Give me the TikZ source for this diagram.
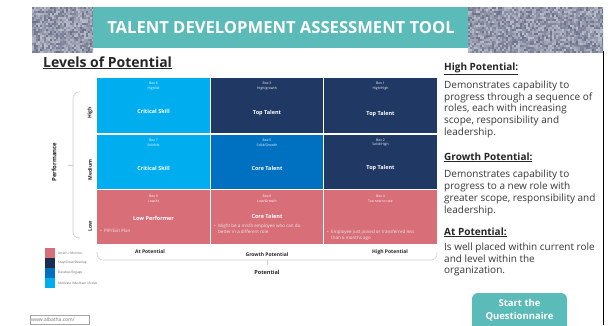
\documentclass[tikz,border=0pt]{standalone}
\usepackage{fontspec}
\setmainfont{Open Sans}
\definecolor{lblue}{RGB}{0,174,239}
\definecolor{navyc}{RGB}{31,56,100}
\definecolor{mblue}{RGB}{0,112,192}
\definecolor{rosec}{RGB}{216,110,120}
\definecolor{tealbar}{RGB}{91,187,184}
\definecolor{texA}{RGB}{80,86,115}
\definecolor{texB}{RGB}{214,217,226}
\definecolor{brk}{RGB}{205,205,205}
\definecolor{bodyc}{RGB}{55,55,55}
\begin{document}
\begin{tikzpicture}[x=1pt,y=-1pt,
  cellsmall/.style={font=\fontsize{3.4}{4.6}\selectfont, text=white, align=center, inner sep=0},
  celltitle/.style={font=\bfseries\fontsize{5.5}{6.5}\selectfont, text=white, inner sep=0},
  bulletbox/.style={font=\fontsize{4.5}{6.3}\selectfont, text=white!92!black, align=left, anchor=north west, inner sep=0},
  collbl/.style={font=\bfseries\fontsize{5}{6}\selectfont, inner sep=0, text=black!85},
  rowlbl/.style={font=\bfseries\fontsize{5}{6}\selectfont, rotate=90, inner sep=0, text=black!85},
  legtxt/.style={font=\fontsize{3.2}{4}\selectfont, anchor=west, inner sep=0, text=black!60},
  heading/.style={font=\bfseries\fontsize{10}{12}\selectfont, anchor=base west, inner sep=0, text=black!85},
  bodytxt/.style={font=\fontsize{10}{11.8}\selectfont, align=left, anchor=north west, inner sep=0, text=bodyc},
  bracketline/.style={draw=brk, line width=0.6pt, rounded corners=6pt}
]
\useasboundingbox (0,0) rectangle (615,325);
\fill[white] (0,0) rectangle (615,325);

% textured header strips
\pgfmathsetseed{7}
\begin{scope}
\clip (32,7) rectangle (93,52);
\fill[texA!50!texB] (32,7) rectangle (93,52);
\foreach \i in {0,...,30}{\foreach \j in {0,...,22}{
  \pgfmathsetmacro\s{int(20+60*rnd)}
  \fill[texA!\s!texB] (32+2*\i,7+2*\j) rectangle ++(2,2);}}
\end{scope}
\begin{scope}
\clip (468,7) rectangle (603,52);
\foreach \i in {0,...,67}{\foreach \j in {0,...,22}{
  \pgfmathsetmacro\s{int(20+60*rnd)}
  \fill[texA!\s!texB] (468+2*\i,7+2*\j) rectangle ++(2,2);}}
\end{scope}

% title bar
\fill[tealbar] (93,7) rectangle (468,48);
\node[font=\bfseries\fontsize{16.6}{18}\selectfont, text=white, inner sep=0] (title) at (281,28) {TALENT DEVELOPMENT ASSESSMENT TOOL};

% panel right border
\draw[black, line width=0.8pt] (603,51) -- (603,325);

% left heading
\node[font=\bfseries\fontsize{14}{16}\selectfont, anchor=base west, inner sep=0, text=black!85] (levels) at (43,67) {\underline{Levels of Potential}};

% grid cells
\fill[lblue] (97,78) rectangle (210,133);
\fill[navyc] (211,78) rectangle (323,133);
\fill[navyc] (324,78) rectangle (437,133);
\fill[lblue] (97,135) rectangle (210,189);
\fill[mblue] (211,135) rectangle (323,189);
\fill[navyc] (324,135) rectangle (437,189);
\fill[rosec] (97,190) rectangle (210,244);
\fill[rosec] (211,190) rectangle (323,244);
\fill[rosec] (324,190) rectangle (437,244);

% cell texts row 1
\node[cellsmall] (b6) at (153.5,86) {Box 6\\High/At};
\node[celltitle] (c6) at (153.5,111) {Critical Skill};
\node[cellsmall] (b3) at (267,86) {Box 3\\High/growth};
\node[celltitle] (c3) at (267,113) {Top Talent};
\node[cellsmall] (b1) at (380.5,86) {Box 1\\High/High};
\node[celltitle] (c1) at (380.5,114) {Top Talent};
% row 2
\node[cellsmall] (b7) at (153.5,142.5) {Box 7\\Solid/At};
\node[celltitle] (c7) at (153.5,168) {Critical Skill};
\node[cellsmall] (b5) at (267,142.5) {Box 5\\Solid/Growth};
\node[celltitle] (c5) at (267,168) {Core Talent};
\node[cellsmall] (b2) at (380.5,142.5) {Box 2\\Solid/High};
\node[celltitle] (c2) at (380.5,168) {Top Talent};
% row 3
\node[cellsmall] (b9) at (153.5,198.5) {Box 9\\Low/At};
\node[celltitle] (c9) at (153.5,218) {Low Performer};
\node[bulletbox] (p9) at (100,228.5) {\textbullet\ \ PIP/Exit Plan};
\node[cellsmall] (b8) at (267,198.5) {Box 8\\Low/Growth};
\node[celltitle] (c8) at (267,216) {Core Talent};
\node[bulletbox] (p8) at (214,223.5) {\textbullet\ \ Might be\ a misfit employee who can do\\\phantom{\textbullet\ \ }better in a different role};
\node[cellsmall] (b4) at (380.5,198.5) {Box 4\\Too new to rate};
\node[bulletbox] (p4) at (327,229.5) {\textbullet\ \ Employee just joined or transferred less\\\phantom{\textbullet\ \ }than 6 months ago};

% vertical bracket and labels
\draw[bracketline] (80,92) -- (73,92) -- (73,238) -- (80,238);
\draw[brk, line width=0.6pt] (73,165) -- (68,165);
\node[font=\bfseries\fontsize{6}{7}\selectfont, rotate=90, inner sep=0, text=black!85] (perf) at (54,162) {Performance};
\node[rowlbl] (rh) at (90,113) {High};
\node[rowlbl] (rm) at (90,170) {Medium};
\node[rowlbl] (rl) at (90,226) {Low};

% horizontal bracket and labels
\draw[bracketline] (97,252) -- (97,260) -- (437,260) -- (437,252);
\draw[brk, line width=0.6pt] (267,260) -- (267,265);
\node[collbl] (at) at (150,252) {At Potential};
\node[collbl] (gr) at (267,254.5) {Growth Potential};
\node[collbl] (hi) at (390,252) {High Potential};
\node[font=\bfseries\fontsize{5.5}{6.5}\selectfont, inner sep=0, text=black!85] (pot) at (267,272) {Potential};

% legend
\fill[rosec] (45,248) rectangle (55,258);
\fill[navyc!80!black] (45,258) rectangle (55,268);
\fill[mblue] (45,268) rectangle (55,278);
\fill[lblue] (45,278) rectangle (55,288);
\node[legtxt] (l1) at (58,253) {Action / Monitor};
\node[legtxt] (l2) at (58,263) {Stay/Grow/Develop};
\node[legtxt] (l3) at (58,273) {Develop/Engage};
\node[legtxt] (l4) at (58,283) {Motivate /Maintain /Active};

% url box
\draw[black!35, line width=0.4pt, fill=white] (30,315) rectangle (89,324);
\node[font=\fontsize{5}{6}\selectfont, text=black!55, anchor=west, inner sep=0] (url) at (31,319.5) {www.albatha.com/};

% right column
\node[heading] (h1) at (444,70) {\underline{High Potential:}};
\node[bodytxt] (t1) at (444,80.5) {Demonstrates capability to\\progress through a sequence of\\roles, each with increasing\\scope, responsibility and\\leadership.};
\node[heading] (h2) at (444,160) {\underline{Growth Potential:}};
\node[bodytxt] (t2) at (444,170) {Demonstrates capability to\\progress to a new role with\\greater scope, responsibility and\\leadership.};
\node[heading] (h3) at (444,235) {\underline{At Potential:}};
\node[bodytxt] (t3) at (444,242.5) {Is well placed within current role\\and level within the\\organization.};

% button
\begin{scope}
\clip (0,0) rectangle (615,325);
\fill[tealbar, rounded corners=6pt] (472,293) rectangle (567,335);
\end{scope}
\node[font=\bfseries\fontsize{9.5}{13.5}\selectfont, text=white, align=center, inner sep=0] (btn) at (519.5,310) {Start the\\Questionnaire};
\end{tikzpicture}
\end{document}
